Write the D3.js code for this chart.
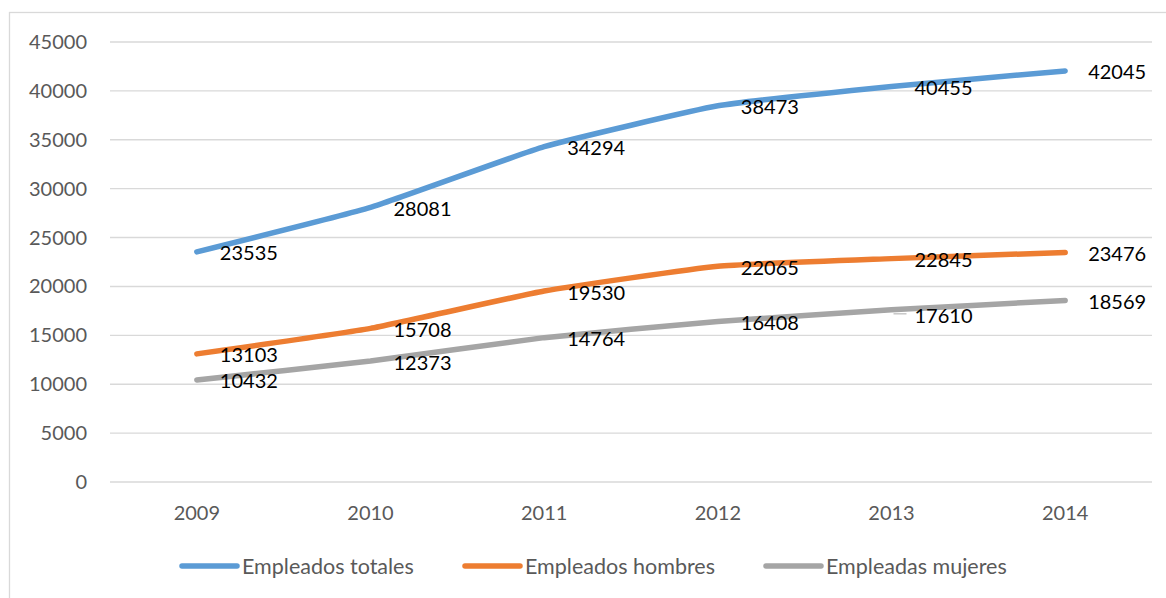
<!DOCTYPE html>
<html>
<head>
<meta charset="utf-8">
<script src="https://cdn.jsdelivr.net/npm/d3@7"></script>
<style>
  body { margin: 0; background: #fff; }
  text { font-family: Lato, "Open Sans", sans-serif; }
</style>
</head>
<body>
<div id="chart"></div>
<script>
// data
const years = ['2009', '2010', '2011', '2012', '2013', '2014'];
const totales = [23535, 28081, 34294, 38473, 40455, 42045];
const hombres = [13103, 15708, 19530, 22065, 22845, 23476];
const mujeres = [10432, 12373, 14764, 16408, 17610, 18569];
const yTicks = [0, 5000, 10000, 15000, 20000, 25000, 30000, 35000, 40000, 45000];
const seriesNames = ['Empleados totales', 'Empleados hombres', 'Empleadas mujeres'];

const width = 1166, height = 598;
const colors = ['#5b9bd5', '#ed7d31', '#a5a5a5'];
const allSeries = [totales, hombres, mujeres];

const svg = d3.select('#chart')
    .append('svg')
    .attr('width', width)
    .attr('height', height);

// chart border (only left and top visible in frame)
svg.append('rect')
    .attr('x', 9.5).attr('y', 12.5)
    .attr('width', width + 20).attr('height', height + 20)
    .attr('fill', 'none')
    .attr('stroke', '#d9d9d9')
    .attr('stroke-width', 1.3);

const x = d3.scalePoint().domain(years).range([110, 1152]).padding(0.5);
const y = d3.scaleLinear().domain([0, 45000]).range([482, 42]);

// gridlines
svg.append('g')
    .selectAll('line')
    .data(yTicks)
    .enter().append('line')
    .attr('x1', 110).attr('x2', 1152)
    .attr('y1', d => y(d)).attr('y2', d => y(d))
    .attr('stroke', '#d9d9d9')
    .attr('stroke-width', 1.4);

// y labels
svg.append('g')
    .selectAll('text')
    .data(yTicks)
    .enter().append('text')
    .attr('x', 87)
    .attr('y', d => y(d))
    .attr('dy', '0.35em')
    .attr('text-anchor', 'end')
    .attr('font-size', '20px')
    .attr('fill', '#595959')
    .text(d => d);

// x labels
svg.append('g')
    .selectAll('text')
    .data(years)
    .enter().append('text')
    .attr('x', d => x(d))
    .attr('y', 513)
    .attr('dy', '0.35em')
    .attr('text-anchor', 'middle')
    .attr('font-size', '20px')
    .attr('fill', '#595959')
    .text(d => d);

// Excel-like smoothing, milder than catmull-rom
const line = d3.line()
    .x((d, i) => x(years[i]))
    .y(d => y(d))
    .curve(d3.curveCardinal.tension(0.6));

allSeries.forEach((vals, s) => {
    svg.append('path')
        .datum(vals)
        .attr('d', line)
        .attr('fill', 'none')
        .attr('stroke', colors[s])
        .attr('stroke-width', 5.5)
        .attr('stroke-linecap', 'round')
        .attr('stroke-linejoin', 'round');
});

// data labels, right of each point; 17610 was pushed down with a leader line
allSeries.forEach((vals, s) => {
    svg.append('g')
        .selectAll('text')
        .data(vals)
        .enter().append('text')
        .attr('x', (d, i) => x(years[i]) + 23)
        .attr('y', (d, i) => y(d) + (s === 2 && i === 4 ? 6 : 1.5))
        .attr('dy', '0.35em')
        .attr('font-size', '20px')
        .attr('fill', '#000')
        .text(d => d);
});

svg.append('line')
    .attr('x1', x('2013') + 2).attr('x2', x('2013') + 15)
    .attr('y1', y(mujeres[4]) + 4).attr('y2', y(mujeres[4]) + 4)
    .attr('stroke', '#bfbfbf')
    .attr('stroke-width', 1.3);

// legend
const legendX = [182, 465, 766];
const legend = svg.append('g')
    .selectAll('g')
    .data(seriesNames)
    .enter().append('g')
    .attr('transform', (d, i) => `translate(${legendX[i]},566)`);

legend.append('line')
    .attr('x1', 0).attr('x2', 55)
    .attr('stroke', (d, i) => colors[i])
    .attr('stroke-width', 5.5)
    .attr('stroke-linecap', 'round');

legend.append('text')
    .attr('x', 60)
    .attr('dy', '0.35em')
    .attr('font-size', '21.5px')
    .attr('fill', '#595959')
    .text(d => d);
</script>
</body>
</html>
